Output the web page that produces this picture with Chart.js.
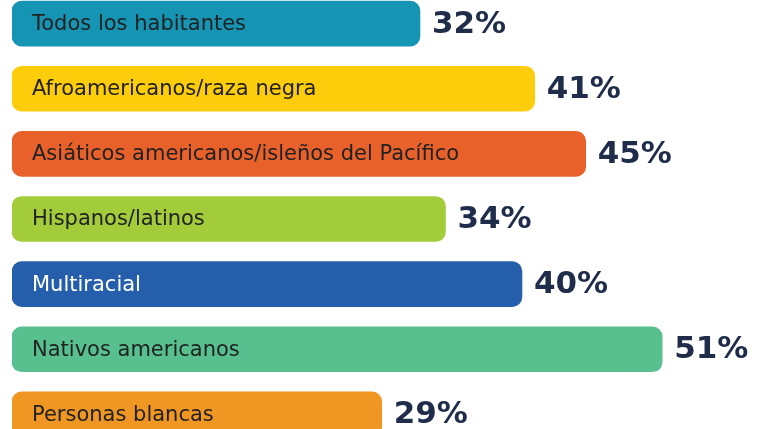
<!DOCTYPE html>
<html>
<head>
<meta charset="utf-8">
<script src="https://cdn.jsdelivr.net/npm/chart.js@4/dist/chart.umd.min.js"></script>
<style>
  html, body { margin: 0; padding: 0; background: #fff; overflow: hidden; width: 761px; height: 429px; }
  #wrap { position: absolute; left: 0; top: -9px; width: 761px; height: 456px; }
</style>
</head>
<body>
<div id="wrap"><canvas id="c" width="761" height="456"></canvas></div>
<script>
const categories = [
  "Todos los habitantes",
  "Afroamericanos/raza negra",
  "Asiáticos americanos/isleños del Pacífico",
  "Hispanos/latinos",
  "Multiracial",
  "Nativos americanos",
  "Personas blancas"
];
const values = [32, 41, 45, 34, 40, 51, 29];
const valueLabels = ["32%", "41%", "45%", "34%", "40%", "51%", "29%"];

const barColors = ["#1594b3", "#fdcd0b", "#e8612a", "#a2cc3a", "#255eab", "#58c08e", "#f09622"];
const textColors = ["#222222", "#222222", "#222222", "#222222", "#ffffff", "#222222", "#222222"];

const labelPlugin = {
  id: 'barLabels',
  afterDatasetsDraw(chart) {
    const ctx = chart.ctx;
    const meta = chart.getDatasetMeta(0);
    ctx.save();
    meta.data.forEach((bar, i) => {
      const p = bar.getProps(['x', 'y', 'base'], true);
      ctx.textBaseline = 'middle';
      ctx.textAlign = 'left';
      ctx.fillStyle = textColors[i];
      ctx.font = '21px "DejaVu Sans", Verdana, sans-serif';
      ctx.fillText(categories[i], p.base + 20, p.y + 1);
      ctx.fillStyle = '#1f2d4a';
      ctx.font = 'bold 31px "DejaVu Sans", Verdana, sans-serif';
      ctx.fillText(valueLabels[i], p.x + 12, p.y + 1);
    });
    ctx.restore();
  }
};

new Chart(document.getElementById('c'), {
  type: 'bar',
  data: {
    labels: categories,
    datasets: [{
      data: values,
      backgroundColor: barColors,
      borderRadius: 10,
      borderSkipped: false,
      barThickness: 45
    }]
  },
  options: {
    indexAxis: 'y',
    responsive: false,
    animation: false,
    layout: { padding: { left: 12, right: 0, top: 0, bottom: 0 } },
    scales: {
      x: { display: false, min: 0, max: 58.75 },
      y: { display: false }
    },
    plugins: { legend: { display: false }, tooltip: { enabled: false } }
  },
  plugins: [labelPlugin]
});
</script>
</body>
</html>
